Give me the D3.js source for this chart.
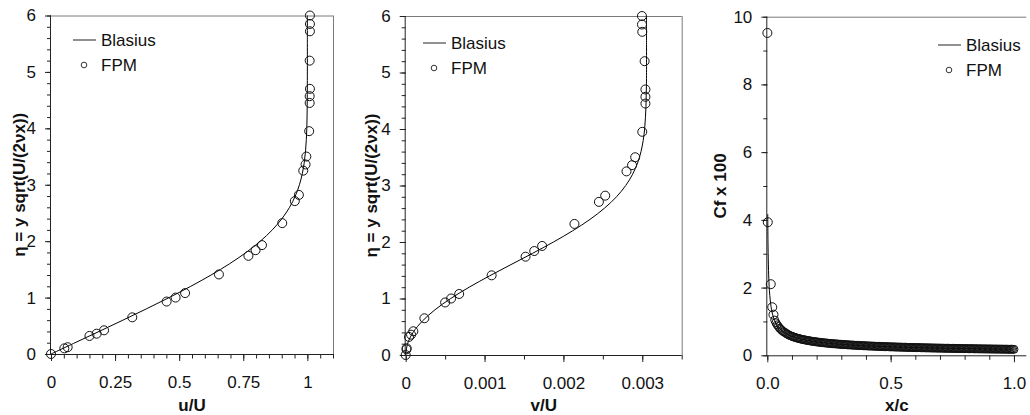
<!DOCTYPE html>
<html>
<head>
<meta charset="utf-8">
<script src="https://cdn.jsdelivr.net/npm/d3@7"></script>
<style>
  html, body { margin: 0; padding: 0; background: #fff; }
  svg { display: block; font-family: Arial, "Liberation Sans", sans-serif; }
</style>
</head>
<body>
<svg id="chart" width="1030" height="415"></svg>
<script>
// ---------- DATA ----------
// Blasius similarity profile (eta, u/U, v/U)
const blasiusEta = [0, 0.2, 0.4, 0.6, 0.8, 1.0, 1.2, 1.4, 1.6, 1.8, 2.0, 2.2, 2.4, 2.6, 2.8, 3.0, 3.2, 3.4, 3.6, 3.8, 4.0, 4.2, 4.4, 4.6, 4.8, 5.0, 5.5, 6.0];
const blasiusU = [0, 0.0939, 0.1876, 0.2806, 0.3720, 0.4606, 0.5453, 0.6244, 0.6967, 0.7611, 0.8167, 0.8633, 0.9010, 0.9306, 0.9529, 0.9691, 0.9804, 0.9880, 0.9929, 0.9959, 0.9978, 0.9988, 0.9994, 0.9997, 0.9999, 1.0, 1.0, 1.0];
const blasiusV = [0, 0.0000235, 0.000094, 0.000211, 0.000371, 0.000571, 0.000805, 0.001063, 0.001335, 0.001609, 0.001874, 0.002119, 0.002337, 0.002522, 0.002673, 0.002790, 0.002878, 0.002941, 0.002984, 0.003012, 0.003030, 0.003040, 0.003047, 0.003050, 0.003053, 0.003054, 0.003054, 0.003054];

// FPM profile points
const fpmEta = [0, 0.10, 0.12, 0.32, 0.36, 0.42, 0.65, 0.93, 1.00, 1.08, 1.41, 1.74, 1.84, 1.93, 2.32, 2.71, 2.82, 3.25, 3.36, 3.50, 3.95, 4.45, 4.57, 4.70, 5.20, 5.72, 5.85, 6.00];
const fpmU = [0, 0.052, 0.065, 0.150, 0.178, 0.207, 0.317, 0.451, 0.486, 0.523, 0.655, 0.770, 0.798, 0.823, 0.902, 0.951, 0.967, 0.984, 0.993, 0.996, 1.007, 1.009, 1.009, 1.010, 1.009, 1.010, 1.010, 1.010];
const fpmV = [0, 0.000010, 0.000012, 0.000042, 0.000068, 0.000097, 0.000237, 0.000500, 0.000576, 0.000678, 0.001090, 0.001520, 0.001630, 0.001730, 0.002140, 0.002450, 0.002530, 0.002800, 0.002870, 0.002910, 0.003000, 0.003040, 0.003040, 0.003040, 0.003030, 0.003000, 0.002996, 0.002996];

// Skin friction (x/c, Cf x 100)
const blasiusXc = [0.0018, 0.003, 0.005, 0.0075, 0.01, 0.015, 0.02, 0.03, 0.04, 0.05, 0.07, 0.1, 0.15, 0.2, 0.3, 0.4, 0.5, 0.6, 0.7, 0.8, 0.9, 1.0];
const blasiusCf = [4.17, 3.23, 2.50, 2.04, 1.77, 1.445, 1.25, 1.02, 0.885, 0.79, 0.67, 0.56, 0.457, 0.396, 0.323, 0.28, 0.25, 0.228, 0.212, 0.198, 0.187, 0.177];

const fpmXc = [0.0003, 0.002, 0.014, 0.02, 0.025,
  0.030, 0.035, 0.040, 0.045, 0.050, 0.055, 0.060, 0.065, 0.070, 0.075, 0.080, 0.085, 0.090, 0.095, 0.100,
  0.105, 0.110, 0.115, 0.120, 0.125, 0.130, 0.135, 0.140, 0.145, 0.150, 0.155, 0.160, 0.165, 0.170, 0.175, 0.180, 0.185, 0.190, 0.195, 0.200,
  0.205, 0.210, 0.215, 0.220, 0.225, 0.230, 0.235, 0.240, 0.245, 0.250, 0.255, 0.260, 0.265, 0.270, 0.275, 0.280, 0.285, 0.290, 0.295, 0.300,
  0.305, 0.310, 0.315, 0.320, 0.325, 0.330, 0.335, 0.340, 0.345, 0.350, 0.355, 0.360, 0.365, 0.370, 0.375, 0.380, 0.385, 0.390, 0.395, 0.400,
  0.405, 0.410, 0.415, 0.420, 0.425, 0.430, 0.435, 0.440, 0.445, 0.450, 0.455, 0.460, 0.465, 0.470, 0.475, 0.480, 0.485, 0.490, 0.495, 0.500,
  0.505, 0.510, 0.515, 0.520, 0.525, 0.530, 0.535, 0.540, 0.545, 0.550, 0.555, 0.560, 0.565, 0.570, 0.575, 0.580, 0.585, 0.590, 0.595, 0.600,
  0.605, 0.610, 0.615, 0.620, 0.625, 0.630, 0.635, 0.640, 0.645, 0.650, 0.655, 0.660, 0.665, 0.670, 0.675, 0.680, 0.685, 0.690, 0.695, 0.700,
  0.705, 0.710, 0.715, 0.720, 0.725, 0.730, 0.735, 0.740, 0.745, 0.750, 0.755, 0.760, 0.765, 0.770, 0.775, 0.780, 0.785, 0.790, 0.795, 0.800,
  0.805, 0.810, 0.815, 0.820, 0.825, 0.830, 0.835, 0.840, 0.845, 0.850, 0.855, 0.860, 0.865, 0.870, 0.875, 0.880, 0.885, 0.890, 0.895, 0.900,
  0.905, 0.910, 0.915, 0.920, 0.925, 0.930, 0.935, 0.940, 0.945, 0.950, 0.955, 0.960, 0.965, 0.970, 0.975, 0.980, 0.985, 0.990, 0.995, 1.000];
const fpmCf = [9.52, 3.93, 2.10, 1.42, 1.20,
  1.04, 0.96, 0.90, 0.85, 0.80, 0.765, 0.73, 0.70, 0.68, 0.655, 0.63, 0.61, 0.59, 0.575, 0.56,
  0.546, 0.534, 0.522, 0.511, 0.501, 0.491, 0.482, 0.473, 0.465, 0.457, 0.450, 0.443, 0.436, 0.429, 0.423, 0.417, 0.412, 0.406, 0.401, 0.396,
  0.391, 0.386, 0.382, 0.377, 0.373, 0.369, 0.365, 0.361, 0.358, 0.354, 0.351, 0.347, 0.344, 0.341, 0.338, 0.335, 0.332, 0.329, 0.326, 0.323,
  0.320, 0.318, 0.315, 0.313, 0.310, 0.308, 0.306, 0.304, 0.301, 0.299, 0.297, 0.295, 0.293, 0.291, 0.289, 0.287, 0.285, 0.283, 0.282, 0.280,
  0.278, 0.276, 0.275, 0.273, 0.272, 0.270, 0.268, 0.267, 0.265, 0.264, 0.262, 0.261, 0.260, 0.258, 0.257, 0.255, 0.254, 0.253, 0.252, 0.250,
  0.249, 0.248, 0.247, 0.245, 0.244, 0.243, 0.242, 0.241, 0.240, 0.239, 0.238, 0.237, 0.235, 0.234, 0.233, 0.232, 0.231, 0.230, 0.229, 0.229,
  0.228, 0.227, 0.226, 0.225, 0.224, 0.223, 0.222, 0.221, 0.220, 0.220, 0.219, 0.218, 0.217, 0.216, 0.215, 0.215, 0.214, 0.213, 0.212, 0.212,
  0.211, 0.210, 0.209, 0.209, 0.208, 0.207, 0.206, 0.206, 0.205, 0.204, 0.204, 0.203, 0.202, 0.202, 0.201, 0.200, 0.200, 0.199, 0.199, 0.198,
  0.197, 0.197, 0.196, 0.195, 0.195, 0.194, 0.194, 0.193, 0.193, 0.192, 0.191, 0.191, 0.190, 0.190, 0.189, 0.189, 0.188, 0.188, 0.187, 0.187,
  0.186, 0.186, 0.185, 0.185, 0.184, 0.184, 0.183, 0.183, 0.182, 0.182, 0.181, 0.181, 0.180, 0.180, 0.179, 0.179, 0.178, 0.178, 0.177, 0.177];

// Tick values
const ticksU = [0, 0.25, 0.5, 0.75, 1];
const tickLabelsU = ["0", "0.25", "0.5", "0.75", "1"];
const minorU = [0, 0.05, 0.1, 0.15, 0.2, 0.25, 0.3, 0.35, 0.4, 0.45, 0.5, 0.55, 0.6, 0.65, 0.7, 0.75, 0.8, 0.85, 0.9, 0.95, 1.0, 1.05, 1.1];
const ticksV = [0, 0.001, 0.002, 0.003];
const tickLabelsV = ["0", "0.001", "0.002", "0.003"];
const minorV = [0, 0.0005, 0.001, 0.0015, 0.002, 0.0025, 0.003, 0.0035];
const ticksEta = [0, 1, 2, 3, 4, 5, 6];
const minorEta = [0, 0.2, 0.4, 0.6, 0.8, 1, 1.2, 1.4, 1.6, 1.8, 2, 2.2, 2.4, 2.6, 2.8, 3, 3.2, 3.4, 3.6, 3.8, 4, 4.2, 4.4, 4.6, 4.8, 5, 5.2, 5.4, 5.6, 5.8, 6];
const ticksXc = [0, 0.5, 1.0];
const tickLabelsXc = ["0.0", "0.5", "1.0"];
const minorXc = [0, 0.1, 0.2, 0.3, 0.4, 0.5, 0.6, 0.7, 0.8, 0.9, 1.0];
const ticksCf = [0, 2, 4, 6, 8, 10];
const minorCf = [0, 1, 2, 3, 4, 5, 6, 7, 8, 9, 10];

// ---------- DRAW ----------
const svg = d3.select("#chart");
const TXT = "#111";

function panel(cfg) {
  const g = svg.append("g");
  const x = d3.scaleLinear().domain(cfg.xDomain).range([cfg.left, cfg.right]);
  const y = d3.scaleLinear().domain(cfg.yDomain).range([cfg.bottom, cfg.top]);

  // frame (top / right)
  g.append("line").attr("x1", cfg.left).attr("x2", cfg.right).attr("y1", cfg.top + 0.5).attr("y2", cfg.top + 0.5)
    .attr("stroke", "#7a7a7a").attr("stroke-width", 1);
  if (cfg.rightFrame) {
    g.append("line").attr("x1", cfg.right + 0.5).attr("x2", cfg.right + 0.5).attr("y1", cfg.top).attr("y2", cfg.bottom)
      .attr("stroke", "#7a7a7a").attr("stroke-width", 1);
  }

  // minor axes
  const minorX = d3.axisBottom(x).tickValues(cfg.minorX).tickSize(4.5).tickFormat("");
  g.append("g").attr("transform", `translate(0,${cfg.bottom})`).call(minorX)
    .call(s => s.select(".domain").remove());
  const minorY = d3.axisLeft(y).tickValues(cfg.minorY).tickSize(4).tickFormat("");
  g.append("g").attr("transform", `translate(${cfg.left},0)`).call(minorY)
    .call(s => s.select(".domain").remove());

  // major axes
  const ax = d3.axisBottom(x).tickValues(cfg.ticksX).tickSize(7).tickPadding(15)
    .tickFormat((d, i) => cfg.labelsX[i]);
  g.append("g").attr("transform", `translate(0,${cfg.bottom})`).call(ax)
    .call(s => s.select(".domain").attr("d", `M${cfg.left},0.5H${cfg.right}`));
  const ay = d3.axisLeft(y).tickValues(cfg.ticksY).tickSize(6).tickPadding(9)
    .tickFormat(d => String(d));
  g.append("g").attr("transform", `translate(${cfg.left},0)`).call(ay)
    .call(s => s.select(".domain").attr("d", `M-0.5,${cfg.top}V${cfg.bottom}`));

  g.selectAll(".tick line, .domain").attr("stroke", "#222");
  g.selectAll(".tick text").attr("font-size", 17).attr("fill", TXT)
    .attr("font-family", "Arial, 'Liberation Sans', sans-serif");

  // titles
  g.append("text").attr("x", (cfg.left + cfg.right) / 2).attr("y", 411)
    .attr("text-anchor", "middle").attr("font-size", 17).attr("font-weight", "bold").attr("fill", TXT)
    .text(cfg.xTitle);
  g.append("text").attr("transform", `translate(${cfg.yTitleX},${(cfg.top + cfg.bottom) / 2}) rotate(-90)`)
    .attr("text-anchor", "middle").attr("font-size", 17).attr("font-weight", "bold").attr("fill", TXT)
    .text(cfg.yTitle);

  // data
  const line = d3.line().x(d => x(d[0])).y(d => y(d[1])).curve(d3.curveCatmullRom);
  const plotG = g.append("g");
  plotG.append("path").datum(cfg.lineData).attr("d", line)
    .attr("fill", "none").attr("stroke", "#000").attr("stroke-width", 1);
  plotG.selectAll("circle.pt").data(cfg.ptData).join("circle").attr("class", "pt")
    .attr("cx", d => x(d[0])).attr("cy", d => y(d[1])).attr("r", (d, i) => i < cfg.bigCount ? 4.5 : cfg.r)
    .attr("fill", "none").attr("stroke", "#111").attr("stroke-width", 1);

  // legend
  const L = cfg.legend;
  g.append("line").attr("x1", L.x).attr("x2", L.x + 23).attr("y1", L.y).attr("y2", L.y)
    .attr("stroke", "#555").attr("stroke-width", 1.3);
  g.append("text").attr("x", L.x + 28).attr("y", L.y + 6).attr("font-size", 17).attr("fill", TXT).text("Blasius");
  g.append("circle").attr("cx", L.x + 11).attr("cy", L.y + 25).attr("r", 2.8)
    .attr("fill", "none").attr("stroke", "#333").attr("stroke-width", 1);
  g.append("text").attr("x", L.x + 28).attr("y", L.y + 31).attr("font-size", 17).attr("fill", TXT).text("FPM");
}

panel({
  left: 51, right: 333, top: 15.5, bottom: 354,
  xDomain: [0, 1.1], yDomain: [0, 6],
  ticksX: ticksU, labelsX: tickLabelsU, minorX: minorU,
  ticksY: ticksEta, minorY: minorEta,
  xTitle: "u/U", yTitle: "η = y sqrt(U/(2νx))", yTitleX: 25, rightFrame: true,
  lineData: blasiusU.map((u, i) => [u, blasiusEta[i]]),
  ptData: fpmU.map((u, i) => [u, fpmEta[i]]),
  r: 4.5, bigCount: 0,
  legend: { x: 73, y: 40 }
});

panel({
  left: 405.7, right: 681.7, top: 16, bottom: 355,
  xDomain: [0, 0.0035], yDomain: [0, 6],
  ticksX: ticksV, labelsX: tickLabelsV, minorX: minorV,
  ticksY: ticksEta, minorY: minorEta,
  xTitle: "v/U", yTitle: "η = y sqrt(U/(2νx))", yTitleX: 377, rightFrame: true,
  lineData: blasiusV.map((v, i) => [v, blasiusEta[i]]),
  ptData: fpmV.map((v, i) => [v, fpmEta[i]]),
  r: 4.5, bigCount: 0,
  legend: { x: 423, y: 43 }
});

panel({
  left: 767.3, right: 1026.3, top: 16.7, bottom: 355.3,
  xDomain: [0, 1.05], yDomain: [0, 10],
  ticksX: ticksXc, labelsX: tickLabelsXc, minorX: minorXc,
  ticksY: ticksCf, minorY: minorCf,
  xTitle: "x/c", yTitle: "Cf x 100", yTitleX: 726, rightFrame: false,
  lineData: blasiusXc.map((v, i) => [v, blasiusCf[i]]),
  ptData: fpmXc.map((v, i) => [v, fpmCf[i]]),
  r: 4, bigCount: 5,
  legend: { x: 938, y: 45 }
});
</script>
</body>
</html>
